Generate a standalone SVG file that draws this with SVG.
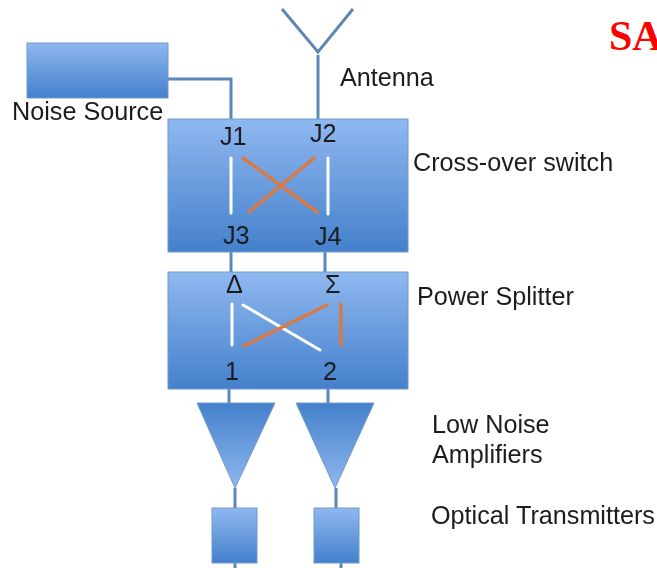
<svg xmlns="http://www.w3.org/2000/svg" width="657" height="568" viewBox="0 0 657 568">
<defs>
<linearGradient id="g" x1="0" y1="0" x2="0" y2="1"><stop offset="0" stop-color="#8fb8f0"/><stop offset="1" stop-color="#4480cb"/></linearGradient>
<linearGradient id="t" x1="0" y1="0" x2="0" y2="1"><stop offset="0" stop-color="#4480cb"/><stop offset="1" stop-color="#8fb8f0"/></linearGradient>
<filter id="b" x="-5%" y="-5%" width="110%" height="110%"><feGaussianBlur stdDeviation="0.6"/></filter>
</defs>
<style>
.box{fill:url(#g);stroke:#7199c9;stroke-width:1}
.tri{fill:url(#t);stroke:#7199c9;stroke-width:1}
.c{fill:none;stroke:#5b88b8;stroke-width:3}
.a{fill:none;stroke:#5f86b2;stroke-width:3}
.w{stroke:#fff;stroke-width:3;stroke-linecap:round}
.o{stroke:#d87a45;stroke-width:3.5;stroke-linecap:round}
text{font-family:"Liberation Sans",Arial,sans-serif;font-size:25.2px;fill:#1c1c1c}
</style>
<g id="connectors" filter="url(#b)">
<path class="c" d="M168 79H231V119"/>
<path class="a" d="M282 9L318 52L353 9"/>
<path class="c" d="M318 55V119"/>
<path class="c" d="M231 252V272"/>
<path class="c" d="M325 252V272"/>
<path class="c" d="M229 389V404"/>
<path class="c" d="M328 389V404"/>
<path class="c" d="M235 488V508"/>
<path class="c" d="M336 488V508"/>
<path class="c" d="M235 563V568"/>
<path class="c" d="M341 563V568"/>
</g>
<g id="noise-source" filter="url(#b)">
<rect class="box" x="27" y="43" width="141" height="55"/>
<text x="12" y="120">Noise Source</text>
</g>
<g id="antenna" filter="url(#b)"><text x="340" y="86">Antenna</text></g>
<g id="cross-over-switch" filter="url(#b)">
<rect class="box" x="168" y="119" width="240" height="133"/>
<text x="220" y="145">J1</text><text x="310" y="142">J2</text>
<text x="223" y="244">J3</text><text x="315" y="245">J4</text>
<line class="w" x1="231" y1="158" x2="231" y2="213"/>
<line class="w" x1="328" y1="158" x2="328" y2="214"/>
<line class="o" x1="243" y1="158" x2="317" y2="212"/>
<line class="o" x1="249" y1="212" x2="314" y2="158"/>
<text x="413" y="171">Cross-over switch</text>
</g>
<g id="power-splitter" filter="url(#b)">
<rect class="box" x="168" y="272" width="240" height="117"/>
<text x="226" y="293">Δ</text><text x="325" y="293">Σ</text>
<text x="225" y="380">1</text><text x="323" y="380">2</text>
<line class="w" x1="232" y1="304" x2="232" y2="345"/>
<line class="w" x1="243" y1="305" x2="320" y2="350"/>
<line class="o" x1="244" y1="346" x2="327" y2="305"/>
<line class="o" x1="341" y1="304" x2="341" y2="345"/>
<text x="417" y="305">Power Splitter</text>
</g>
<g id="lna-1" filter="url(#b)"><path class="tri" d="M197 403H275L235 488Z"/></g>
<g id="lna-2" filter="url(#b)"><path class="tri" d="M296 403H374L335 488Z"/></g>
<g id="lna-label" filter="url(#b)"><text x="432" y="433">Low Noise</text><text x="432" y="463">Amplifiers</text></g>
<g id="tx-1" filter="url(#b)"><rect class="box" x="212" y="508" width="45" height="55"/></g>
<g id="tx-2" filter="url(#b)"><rect class="box" x="314" y="508" width="45" height="55"/></g>
<g id="tx-label" filter="url(#b)"><text x="431" y="524">Optical Transmitters</text></g>
<text x="609" y="50" style="font-family:'Liberation Serif',serif;font-size:42px;font-weight:bold;fill:#ff0000">SA</text>
</svg>
